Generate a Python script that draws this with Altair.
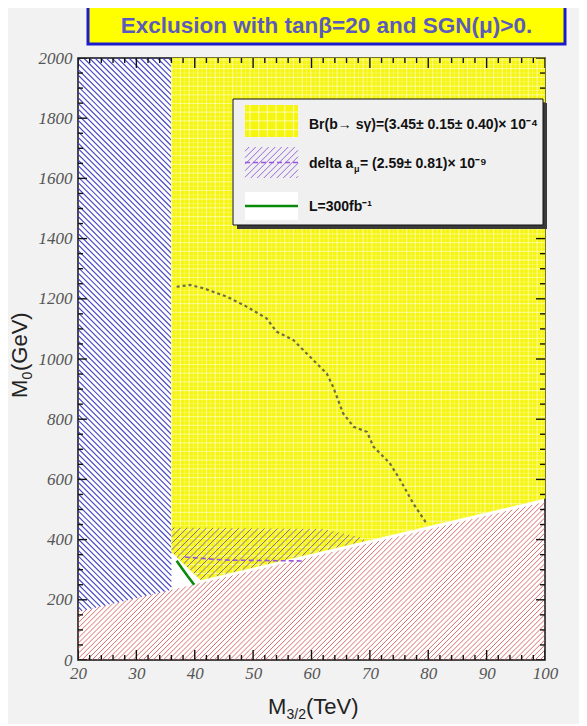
import numpy as np
import pandas as pd
import altair as alt

# ---------------- data ----------------
X_DOMAIN = [20, 100]
Y_DOMAIN = [0, 2000]

x_major_ticks = [20, 30, 40, 50, 60, 70, 80, 90, 100]
x_minor_ticks = [v for v in range(20, 101, 2) if v % 10 != 0]
y_major_ticks = [0, 200, 400, 600, 800, 1000, 1200, 1400, 1600, 1800, 2000]
y_minor_ticks = [v for v in range(0, 2001, 50) if v % 200 != 0]

# LEP-like lower exclusion boundary (red hatched below)
red_x = [20, 100]
red_y = [160, 525]

# blue hatched region edge (M3/2)
blue_x_max = 36

# yellow (Br(b->s gamma)) allowed region: left edge / lower boundary
yellow_x = [36, 100, 100, 41, 36]
yellow_y = [2000, 2000, 537, 266, 360]

# delta a_mu band (purple hatched)
amu_band_x = [36, 62, 69, 69, 41, 36]
amu_band_y = [440, 435, 405, 395, 266, 360]

# delta a_mu central line (purple dashed)
amu_x = [38.3, 45.2, 58.4]
amu_y = [342, 332, 329]

# b->s gamma contour (dark dotted)
bsg_x = [36.9, 39.2, 41.5, 45.5, 48.9, 52.3, 54.0, 56.9, 59.7, 62.6, 63.7,
         65.4, 67.2, 69.5, 70.6, 73.4, 75.2, 77.4, 79.7]
bsg_y = [1240, 1246, 1235, 1207, 1174, 1135, 1091, 1063, 1008, 952, 908,
         820, 775, 758, 709, 654, 598, 521, 454]

# L = 300 fb^-1 reach (green)
lum_x = [36.9, 37.8, 38.8, 39.9]
lum_y = [330, 305, 278, 250]

title_text = "Exclusion with tanβ=20 and SGN(μ)>0."
legend_texts = ["Br(b→ sγ)=(3.45± 0.15± 0.40)× 10⁻⁴", "delta a", "μ",
                " = (2.59± 0.81)× 10⁻⁹", "L=300fb⁻¹"]

# ---------------- geometry helpers ----------------
W, H = 467, 602


def to_px(x, y):
    x = np.asarray(x, float); y = np.asarray(y, float)
    return ((x - X_DOMAIN[0]) / (X_DOMAIN[1] - X_DOMAIN[0]) * W,
            H - (y - Y_DOMAIN[0]) / (Y_DOMAIN[1] - Y_DOMAIN[0]) * H)


def to_data(px, py):
    px = np.asarray(px, float); py = np.asarray(py, float)
    return (X_DOMAIN[0] + px / W * (X_DOMAIN[1] - X_DOMAIN[0]),
            Y_DOMAIN[0] + (H - py) / H * (Y_DOMAIN[1] - Y_DOMAIN[0]))


def hatch_px(poly, d, spacing, offset=0.0):
    P = np.array(poly, float)
    d = np.array(d, float); d /= np.linalg.norm(d)
    n = np.array([-d[1], d[0]])
    proj = P @ n
    segs = []
    c = np.floor(proj.min() / spacing) * spacing + offset
    while c <= proj.max():
        pts = []
        for i in range(len(P)):
            A = P[i]; B = P[(i + 1) % len(P)]
            sa = A @ n - c; sb = B @ n - c
            if (sa > 0) != (sb > 0):
                t = sa / (sa - sb)
                pts.append(A + t * (B - A))
        pts.sort(key=lambda p: p @ d)
        for k in range(0, len(pts) - 1, 2):
            segs.append((pts[k][0], pts[k][1], pts[k + 1][0], pts[k + 1][1]))
        c += spacing
    return segs


def poly_px(xs_, ys_):
    px, py = to_px(xs_, ys_)
    return list(zip(px, py))


def segs_to_df(segs):
    if not segs:
        return pd.DataFrame(columns=["x", "y", "x2", "y2"])
    a = np.array(segs)
    x, y = to_data(a[:, 0], a[:, 1])
    x2, y2 = to_data(a[:, 2], a[:, 3])
    return pd.DataFrame({"x": x, "y": y, "x2": x2, "y2": y2})


def red_line(x):
    return np.interp(x, red_x, red_y)


xs = alt.Scale(domain=X_DOMAIN, nice=False, zero=False)
ys = alt.Scale(domain=Y_DOMAIN, nice=False, zero=False)

axX = alt.Axis(values=x_major_ticks, format="d", ticks=False, domain=False, grid=False,
               labelFont="Liberation Serif", labelFontStyle="italic",
               labelFontSize=17, labelColor="#555555", labelPadding=5,
               labelFlush=False, title=None)
axY = alt.Axis(values=y_major_ticks, format="d", ticks=False, domain=False, grid=False,
               labelFont="Liberation Serif", labelFontStyle="italic",
               labelFontSize=17, labelColor="#555555", labelPadding=6,
               labelFlush=False, title=None)


def X(field):
    return alt.X(field, scale=xs, axis=axX)


def Y(field):
    return alt.Y(field, scale=ys, axis=axY)


def rules(df, color, width, opacity=1.0, dash=None):
    kw = dict(color=color, strokeWidth=width, opacity=opacity, clip=True)
    if dash:
        kw["strokeDash"] = dash
    return alt.Chart(df).mark_rule(**kw).encode(
        x=X("x:Q"), y=Y("y:Q"), x2="x2:Q", y2="y2:Q")


# ---------------- regions ----------------
red_poly = poly_px([20, 100, 100, 20], [0, 0, red_y[1], red_y[0]])
blue_poly = poly_px([20, blue_x_max, blue_x_max, 20],
                    [2000, 2000, red_line(blue_x_max), red_line(20)])
yellow_poly = poly_px(yellow_x, yellow_y)
amu_poly = poly_px(amu_band_x, amu_band_y)

red_hatch = segs_to_df(hatch_px(red_poly, (1, -1), 3.6))
blue_hatch = segs_to_df(hatch_px(blue_poly, (1, 1), 4.0))
amu_hatch = segs_to_df(hatch_px(amu_poly, (1, -1), 4.6))
ygrid = pd.concat([segs_to_df(hatch_px(yellow_poly, (1, 0), 8.7, 2)),
                   segs_to_df(hatch_px(yellow_poly, (0, 1), 8.7, 2))])
ygrid2 = pd.concat([segs_to_df(hatch_px(yellow_poly, (1, 0), 8.7, 6.4)),
                    segs_to_df(hatch_px(yellow_poly, (0, 1), 8.7, 6.4))])

yellow_df = pd.DataFrame({"x": yellow_x, "y": yellow_y, "o": range(len(yellow_x))})
yellow_fill = alt.Chart(yellow_df).mark_line(
    fill="#f6f510", stroke="#f6f510", strokeWidth=0.5, interpolate="linear-closed").encode(
    x=X("x:Q"), y=Y("y:Q"), order="o:Q")

# ---------------- curves ----------------
bsg_df = pd.DataFrame({"x": bsg_x, "y": bsg_y, "o": range(len(bsg_x))})
bsg_line = alt.Chart(bsg_df).mark_line(
    color="#6e6e3c", strokeWidth=2.2, strokeDash=[3, 3]).encode(
    x=X("x:Q"), y=Y("y:Q"), order="o:Q")

amu_df = pd.DataFrame({"x": amu_x, "y": amu_y, "o": range(len(amu_x))})
amu_line = alt.Chart(amu_df).mark_line(
    color="#9955dd", strokeWidth=1.6, strokeDash=[5, 3]).encode(
    x=X("x:Q"), y=Y("y:Q"), order="o:Q")

lum_df = pd.DataFrame({"x": lum_x, "y": lum_y, "o": range(len(lum_x))})
lum_line = alt.Chart(lum_df).mark_line(
    color="#0a8a0a", strokeWidth=2.6).encode(
    x=X("x:Q"), y=Y("y:Q"), order="o:Q")

# ---------------- ticks (inside) ----------------
py_unit = 2000 / H
px_unit = 80 / W
tick_rows = []
for v in x_major_ticks:
    tick_rows.append((v, 0, v, 10 * py_unit))
    tick_rows.append((v, 2000, v, 2000 - 10 * py_unit))
for v in x_minor_ticks:
    tick_rows.append((v, 0, v, 5 * py_unit))
    tick_rows.append((v, 2000, v, 2000 - 5 * py_unit))
for v in y_major_ticks:
    tick_rows.append((20, v, 20 + 9 * px_unit, v))
    tick_rows.append((100, v, 100 - 9 * px_unit, v))
for v in y_minor_ticks:
    tick_rows.append((20, v, 20 + 5 * px_unit, v))
    tick_rows.append((100, v, 100 - 5 * px_unit, v))
ticks_df = pd.DataFrame(tick_rows, columns=["x", "y", "x2", "y2"])
ticks = rules(ticks_df, "#111111", 1.4)

# ---------------- legend ----------------
one = pd.DataFrame({"a": [0]})


def vrect(x1, x2, y1, y2, **kw):
    return alt.Chart(one).mark_rect(**kw).encode(
        x=alt.value(x1), x2=alt.value(x2), y=alt.value(y1), y2=alt.value(y2))


def vtext(txt, x, y, **kw):
    return alt.Chart(one).mark_text(text=txt, **kw).encode(
        x=alt.value(x), y=alt.value(y))


def vrule(x1, x2, y1, y2, **kw):
    return alt.Chart(one).mark_rule(**kw).encode(
        x=alt.value(x1), x2=alt.value(x2), y=alt.value(y1), y2=alt.value(y2))


LX1, LX2, LY1, LY2 = 155, 465, 41, 167
legend_layers = [
    vrect(LX1 + 4, LX2 + 4, LY1 + 4, LY2 + 4, fill="#3a3a3a"),
    vrect(LX1, LX2, LY1, LY2, fill="#f0f0f0", stroke="#111111", strokeWidth=1),
    vrect(167, 220, 47, 79, fill="#f6f510"),
]
sw_y = [(167, 47), (220, 47), (220, 79), (167, 79)]
sw_grid = pd.concat([segs_to_df(hatch_px(sw_y, (1, 0), 8.7, 2)),
                     segs_to_df(hatch_px(sw_y, (0, 1), 8.7, 2))])
legend_layers.append(rules(sw_grid, "#fffff0", 1.3, 0.55))
sw_p = [(167, 89), (220, 89), (220, 120), (167, 120)]
legend_layers.append(rules(segs_to_df(hatch_px(sw_p, (1, -1), 4.6)), "#9966dd", 1.0))
legend_layers.append(vrule(167, 220, 104.5, 104.5, color="#9955dd", strokeWidth=1.6,
                           strokeDash=[5, 3]))
legend_layers.append(vrect(167, 220, 134, 162, fill="#ffffff"))
legend_layers.append(vrule(167, 220, 148, 148, color="#0a8a0a", strokeWidth=2.6))
lfont = dict(font="Liberation Sans", fontWeight="bold", color="#111111",
             align="left", baseline="middle")
legend_layers.append(vtext(legend_texts[0], 231, 67, fontSize=14, **lfont))
legend_layers.append(vtext(legend_texts[1], 231, 106, fontSize=14, **lfont))
legend_layers.append(vtext(legend_texts[2], 276, 111, fontSize=9, **lfont))
legend_layers.append(vtext(legend_texts[3], 282, 106, fontSize=14, **lfont))
legend_layers.append(vtext(legend_texts[4], 231, 149, fontSize=14, **lfont))

# ---------------- title and axis titles ----------------
title_layers = [
    vrect(10, 487, -52, -14, fill="#ffff00", stroke="#1c1ccc", strokeWidth=3),
    vtext(title_text, 248.5, -32, font="Liberation Sans", fontWeight="bold",
          fontSize=22.5, color="#5b5bbd", align="center", baseline="middle"),
]
tfont = dict(font="Liberation Sans", color="#222222", align="left",
             baseline="alphabetic")
axis_title_layers = [
    vtext("M", 190, 656, fontSize=22, **tfont),
    vtext("3/2", 208.5, 661, fontSize=14, **tfont),
    vtext("(TeV)", 228, 656, fontSize=22, **tfont),
    vtext("M", -51, 340, fontSize=22, angle=270, **tfont),
    vtext("0", -46, 321.5, fontSize=14, angle=270, **tfont),
    vtext("(GeV)", -51, 313, fontSize=22, angle=270, **tfont),
]

chart = alt.layer(
    rules(red_hatch, "#d04848", 1.0, 0.8),
    rules(blue_hatch, "#3c3cc0", 1.15, 0.95),
    yellow_fill,
    rules(ygrid, "#fffff2", 1.2, 0.5),
    rules(ygrid2, "#fffff2", 0.9, 0.3),
    rules(amu_hatch, "#7a5a9a", 1.0, 0.9),
    bsg_line,
    amu_line,
    lum_line,
    ticks,
    *legend_layers,
    *title_layers,
    *axis_title_layers,
).properties(
    width=W, height=H,
    autosize=alt.AutoSizeParams(type="none"),
    padding={"left": 70, "top": 50, "right": 34, "bottom": 64},
    background="#f2f2f2",
).configure_view(
    fill="#ffffff", stroke="#111111", strokeWidth=1.5
)

chart.save("out.html", embed_options={"renderer": "svg", "actions": False})
